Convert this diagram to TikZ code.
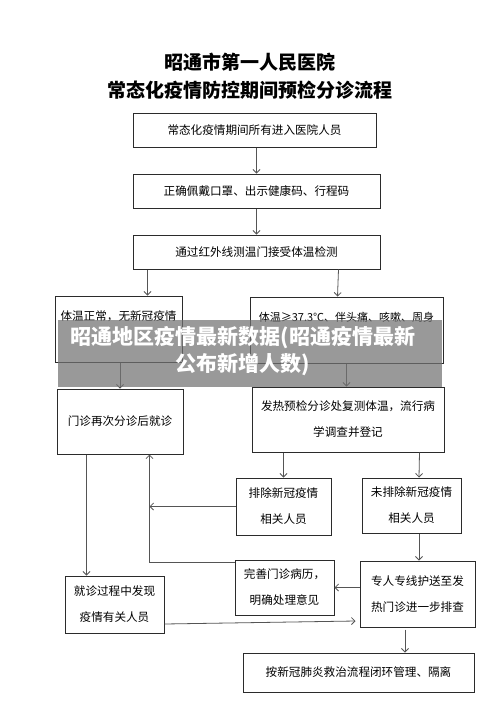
\documentclass[tikz,border=0pt]{standalone}
\usepackage{fontspec}
\usetikzlibrary{arrows.meta,calc}
\newfontfamily\cjk{Noto Sans CJK SC}
\definecolor{boxline}{HTML}{2B2B2B}
\definecolor{flowgrey}{HTML}{555555}
\definecolor{bandgrey}{HTML}{737373}

\begin{document}
\begin{tikzpicture}[
  x=1pt,
  y=-1pt,
  every node/.style={font=\cjk\fontsize{11.6}{26}\selectfont, inner sep=0pt, align=center},
  box/.style={draw=boxline, line width=1pt, fill=white},
  flow/.style={flowgrey, line width=0.8pt, -{Straight Barb[length=3.5pt,width=7pt]}},
  heading/.style={font=\cjk\bfseries\fontsize{19}{28}\selectfont},
  band/.style={bandgrey, opacity=0.72},
  bandtext/.style={white, font=\cjk\bfseries\fontsize{21}{27}\selectfont}
]
  \fill[white] (0,0) rectangle (500,707);
  \useasboundingbox (0,0) rectangle (500,707);

  % ---- title -------------------------------------------------------------
  \node[heading] (head) at (250,76) {昭通市第一人民医院\\常态化疫情防控期间预检分诊流程};

  % ---- entry and temperature check ---------------------------------------
  \node[box, minimum width=243pt, minimum height=34pt] (b1) at (254.5,130)
    {常态化疫情期间所有进入医院人员};
  \node[box, minimum width=247pt, minimum height=34pt] (b2) at (256.5,191)
    {正确佩戴口罩、出示健康码、行程码};
  \node[box, minimum width=247pt, minimum height=34pt] (b3) at (256.5,252)
    {通过红外线测温门接受体温检测};

  % ---- the two branches ----------------------------------------------------
  \node[box, minimum width=127pt, minimum height=66pt] (b4) at (118.5,329)
    {体温正常，无新冠疫情\\\mbox{}};
  \node[box, minimum width=193pt, minimum height=66pt,
    font=\cjk\fontsize{11}{26}\selectfont] (b5) at (346.5,330)
    {体温≥37.3℃、伴头痛、咳嗽、周身\\\mbox{}};
  \node[box, minimum width=126pt, minimum height=65pt] (b6) at (120,421.5)
    {门诊再次分诊后就诊};
  \node[box, minimum width=192pt, minimum height=65pt] (b7) at (348,419.5)
    {发热预检分诊处复测体温，流行病\\学调查并登记};

  % ---- screening results -------------------------------------------------
  \node[box, minimum width=95pt, minimum height=57pt] (b9) at (283.5,506.5)
    {排除新冠疫情\\相关人员};
  \node[box, minimum width=99pt, minimum height=55pt] (b10) at (411.5,505.5)
    {未排除新冠疫情\\相关人员};
  \node[box, minimum width=115pt, minimum height=66pt] (b11) at (417.5,594)
    {专人专线护送至发\\热门诊进一步排查};
  \node[box, minimum width=99pt, minimum height=55pt] (b12) at (284.5,587.5)
    {完善门诊病历，\\明确处理意见};
  \node[box, minimum width=99pt, minimum height=57pt] (b8) at (114.5,604.5)
    {就诊过程中发现\\疫情有关人员};
  \node[box, minimum width=231pt, minimum height=39pt] (b13) at (358.5,672.5)
    {按新冠肺炎救治流程闭环管理、隔离};

  % ---- connectors --------------------------------------------------------
  \draw[flow] (b1.south -| b2.north) -- (b2.north);
  \draw[flow] (b2.south) -- (b3.north);
  \draw[flow] ($(b3.south west)+(15,0)$) -- ($(b4.north west)+(93,0)$);
  \draw[flow] ($(b3.south east)+(-42,0)$) -- ($(b5.north west)+(88,0)$);
  \draw[flow] (b4.south -| b6.north) -- (b6.north);
  \draw[flow] (b5.south) -- (b5.south |- b7.north);
  \draw[flow] (b9.north |- b7.south) -- (b9.north);
  \draw[flow] ($(b7.south east)+(-25,0)$) -- ($(b10.north)+(7.5,0)$);
  \draw[flow] ($(b10.south)+(7.5,0)$) -- ($(b11.north)+(1.5,0)$);
  \draw[flow] ($(b11.south)+(-12.5,2)$) -- ($(b13.north)+(46.5,0)$);
  \draw[flow] ($(b6.south west)+(30,0)$) -- ($(b8.north west)+(22,0)$);
  \coordinate (back) at ($(b6.south west)+(93,0)$);
  \draw[flow] ($(b12.north west)+(0,3)$) -| (back);
  \draw[flow] (b9.west) -- (b9.west -| back);
  \draw[flow] (b11.west |- b12.east) -- (b12.east);
  \draw[flow] ($(b8.east)+(0,19.5)$) -- ($(b11.west)+(-4,27)$);

  % ---- overlay caption ---------------------------------------------------
  \fill[band] (58,320) rectangle (442,387);
  \node[bandtext] (mark) at (243,351.5)
    {昭通地区疫情最新数据(昭通疫情最新\\公布新增人数)};
\end{tikzpicture}
\end{document}
